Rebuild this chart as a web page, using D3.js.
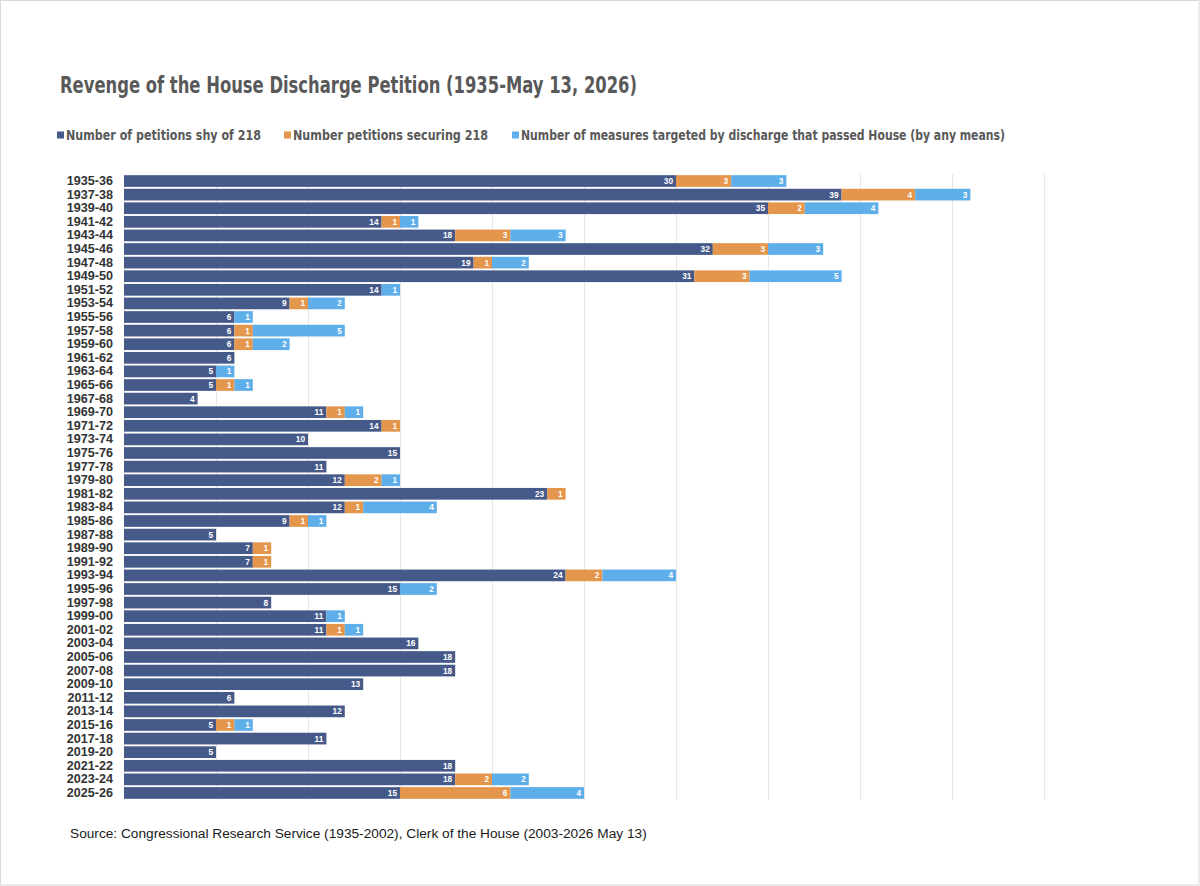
<!DOCTYPE html>
<html><head><meta charset="utf-8">
<script src="https://cdn.jsdelivr.net/npm/d3@7"></script>
<style>
body{margin:0;background:#fff;}
svg{display:block;}
</style></head>
<body>
<script>
const categories = ["1935-36","1937-38","1939-40","1941-42","1943-44","1945-46","1947-48","1949-50","1951-52","1953-54","1955-56","1957-58","1959-60","1961-62","1963-64","1965-66","1967-68","1969-70","1971-72","1973-74","1975-76","1977-78","1979-80","1981-82","1983-84","1985-86","1987-88","1989-90","1991-92","1993-94","1995-96","1997-98","1999-00","2001-02","2003-04","2005-06","2007-08","2009-10","2011-12","2013-14","2015-16","2017-18","2019-20","2021-22","2023-24","2025-26"];
const shyOf218 = [30,39,35,14,18,32,19,31,14,9,6,6,6,6,5,5,4,11,14,10,15,11,12,23,12,9,5,7,7,24,15,8,11,11,16,18,18,13,6,12,5,11,5,18,18,15];
const securing218 = [3,4,2,1,3,3,1,3,0,1,0,1,1,0,0,1,0,1,1,0,0,0,2,1,1,1,0,1,1,2,0,0,0,1,0,0,0,0,0,0,1,0,0,0,2,6];
const passedHouse = [3,3,4,1,3,3,2,5,1,2,1,5,2,0,1,1,0,1,0,0,0,0,1,0,4,1,0,0,0,4,2,0,1,1,0,0,0,0,0,0,1,0,0,0,2,4];
const seriesNames = ["Number of petitions shy of 218","Number petitions securing 218","Number of measures targeted by discharge that passed House (by any means)"];
const seriesColors = ["#465a8a","#e3964c","#5eaeea"];
const xTicks = [0,5,10,15,20,25,30,35,40,45,50];

const W=1200,H=886;
const svg=d3.select("body").append("svg").attr("width",W).attr("height",H);
svg.append("rect").attr("x",0.5).attr("y",0.5).attr("width",W-1.5).attr("height",H-1.5).attr("fill","#fff").attr("stroke","#d9d9d9");

const narrow = "'Liberation Sans Narrow','Arial Narrow','DejaVu Sans Condensed',sans-serif";
const sans = "'Liberation Sans',Arial,sans-serif";

svg.append("text").attr("x",60).attr("y",93).attr("font-family",narrow).attr("font-weight","bold")
  .attr("font-size",22.5).attr("fill","#595959")
  .attr("textLength",577).attr("lengthAdjust","spacingAndGlyphs")
  .text("Revenge of the House Discharge Petition (1935-May 13, 2026)");

// legend
const legX=[57,284,512];
const legLen=[195,195,484];
seriesNames.forEach((n,i)=>{
  const g=svg.append("g");
  g.append("rect").attr("x",legX[i]).attr("y",131.5).attr("width",7).attr("height",7).attr("fill",seriesColors[i]);
  g.append("text").attr("x",legX[i]+9).attr("y",140).attr("font-family",narrow).attr("font-weight","bold")
   .attr("font-size",14.2).attr("fill","#595959")
   .attr("textLength",legLen[i]).attr("lengthAdjust","spacingAndGlyphs").text(n);
});

const x=d3.scaleLinear().domain([0,50]).range([124,1044]);
const y=d3.scaleBand().domain(categories).range([174.5,799.5]).paddingInner(0.14).paddingOuter(0.05);

// gridlines
svg.append("g").selectAll("line").data(xTicks).join("line")
  .attr("x1",d=>x(d)+0.5).attr("x2",d=>x(d)+0.5).attr("y1",174).attr("y2",800)
  .attr("stroke","#e6e6e6").attr("stroke-width",1);

const data=categories.map((c,i)=>({cat:c,v:[shyOf218[i],securing218[i],passedHouse[i]]}));
const stack=d3.stack().keys([0,1,2]).value((d,k)=>d.v[k]);
const layers=stack(data);

layers.forEach((layer,k)=>{
  const g=svg.append("g");
  g.selectAll("rect").data(layer).join("rect")
    .attr("x",d=>x(d[0])).attr("y",d=>y(d.data.cat))
    .attr("width",d=>x(d[1])-x(d[0])).attr("height",y.bandwidth())
    .attr("fill",seriesColors[k]);
  g.selectAll("text").data(layer.filter(d=>d[1]-d[0]>0)).join("text")
    .attr("x",d=>x(d[1])-3).attr("y",d=>y(d.data.cat)+y.bandwidth()/2+3)
    .attr("text-anchor","end").attr("font-family",sans).attr("font-weight","bold")
    .attr("font-size",8.3).attr("fill","#fff").text(d=>d[1]-d[0]);
});

// category axis
const yAxis=svg.append("g").attr("transform","translate(113,0)")
  .call(d3.axisLeft(y).tickSize(0).tickPadding(0));
yAxis.select(".domain").remove();
yAxis.selectAll("text").attr("font-family",sans).attr("font-weight","bold").attr("font-size",12.6).attr("fill","#333333");

svg.append("text").attr("x",70).attr("y",838).attr("font-family",sans).attr("font-size",13.7)
  .attr("fill","#1a1a1a").text("Source: Congressional Research Service (1935-2002), Clerk of the House (2003-2026 May 13)");
</script>
</body></html>
